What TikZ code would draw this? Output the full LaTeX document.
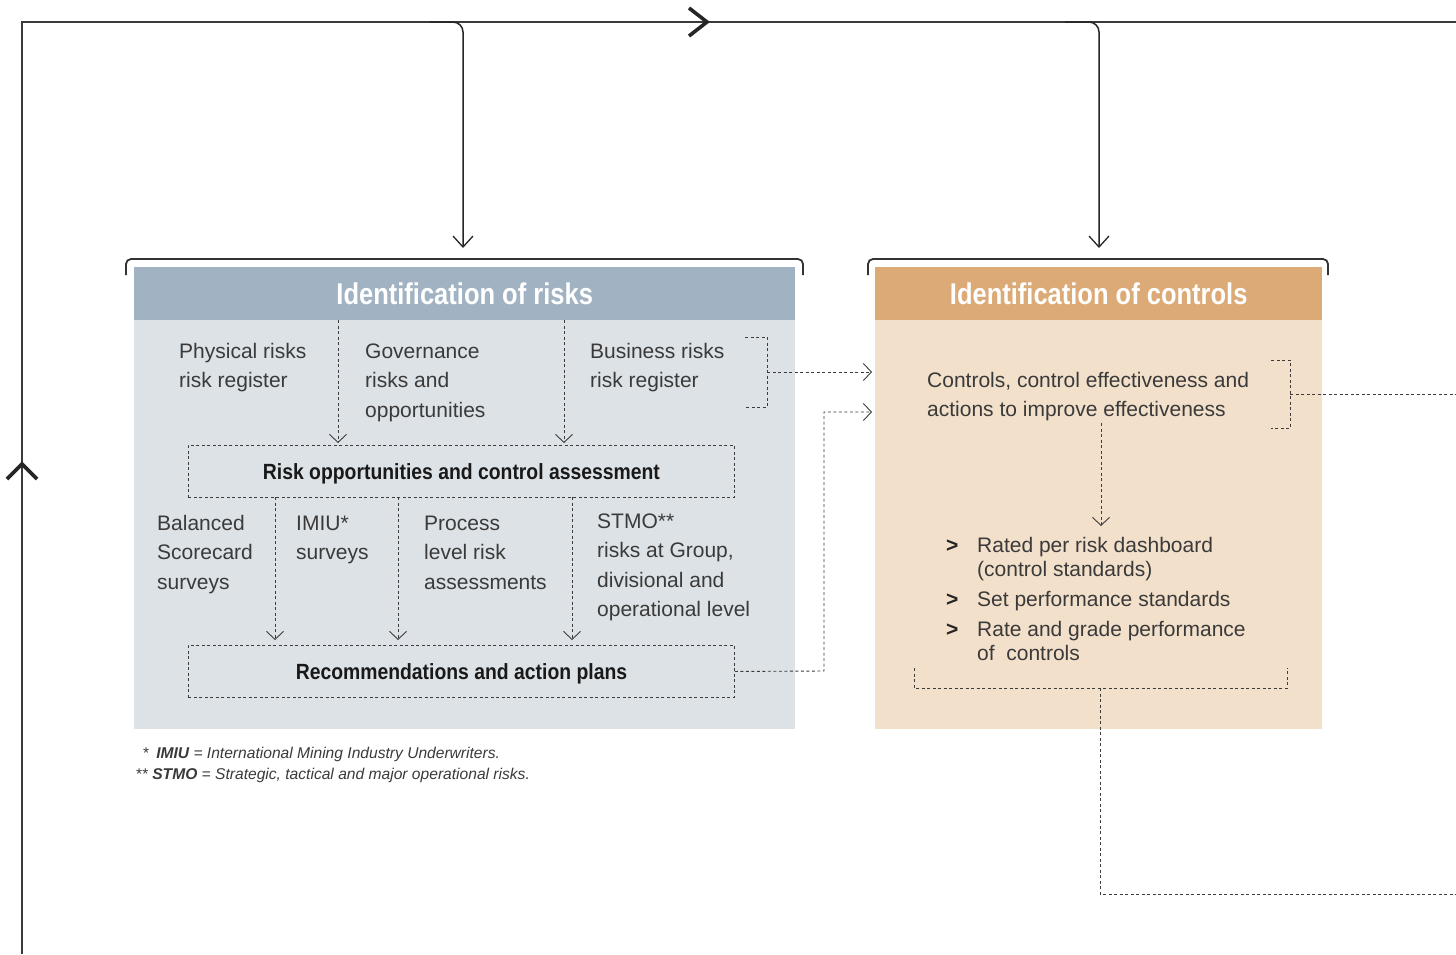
\documentclass[tikz,border=0pt]{standalone}
\usepackage{fontspec}
\setmainfont{Liberation Sans}
\newfontfamily\condfont[FakeStretch=0.85]{Liberation Sans}
\newfontfamily\condfontb[FakeStretch=0.88]{Liberation Sans}
\usetikzlibrary{arrows.meta}
\definecolor{hdblue}{HTML}{A1B3C2}
\definecolor{bdblue}{HTML}{DDE2E6}
\definecolor{hdorange}{HTML}{DCAA77}
\definecolor{bdorange}{HTML}{F2E0CB}
\definecolor{loopgray}{HTML}{3A3A3A}
\definecolor{dashgray}{HTML}{3C3C3C}
\definecolor{textgray}{HTML}{3A3A3A}
\newcommand\ml[1]{\begin{tabular}[t]{@{}l@{}}#1\end{tabular}}
\begin{document}
\begin{tikzpicture}[x=1pt,y=-1pt,
  loopline/.style={line width=1.8pt, draw=loopgray},
  solidarrow/.style={line width=1.5pt, draw=black!85, rounded corners=10pt,
     -{Straight Barb[length=11pt,width=20pt,line width=1.3pt]}},
  chev/.style={line width=3.6pt, draw=black!85, line cap=butt, line join=miter},
  brack/.style={line width=1.8pt, draw=black!80, rounded corners=5pt},
  dashline/.style={draw=dashgray, line width=0.9pt, dash pattern=on 3pt off 2.5pt},
  darrow/.style={dashline, -{Straight Barb[length=8pt,width=17pt,line width=0.9pt]}},
  panel/.style={anchor=north west, inner sep=0pt, draw=none},
  head/.style={text=white, inner sep=0pt, text height=21pt, text depth=0pt,
     font=\condfont\bfseries\fontsize{30}{32}\selectfont},
  body/.style={inner sep=0pt, anchor=base west, text=textgray, font=\fontsize{21}{29.5}\selectfont},
  bullet/.style={inner sep=0pt, anchor=base west, text=black!85, font=\bfseries\fontsize{21}{24}\selectfont},
  dbox/.style={dashline, anchor=north west, inner sep=0pt, minimum width=546pt, minimum height=52pt,
     text height=16pt, text depth=0pt,
     text=black!90, font=\condfontb\bfseries\fontsize{22}{24}\selectfont},
  foot/.style={inner sep=0pt, anchor=base west, text=textgray, font=\itshape\fontsize{15.6}{18}\selectfont}
]
\useasboundingbox (0,0) rectangle (1456,954);

% ---------- panels ----------
\node[panel, fill=bdblue, minimum width=661pt, minimum height=409pt] (rbody) at (134,320) {};
\node[panel, fill=hdblue, minimum width=661pt, minimum height=53pt] (rhead) at (134,267) {};
\node[head] (rheadtxt) at (rhead.center) {Identification of risks};
\node[panel, fill=bdorange, minimum width=447pt, minimum height=409pt] (cbody) at (875,320) {};
\node[panel, fill=hdorange, minimum width=447pt, minimum height=53pt] (chead) at (875,267) {};
\node[head] (cheadtxt) at (chead.center) {Identification of controls};

% ---------- brackets above panels ----------
\draw[brack] (126,275) -- (126,259) -- (803,259) -- (803,275);
\draw[brack] (868,275) -- (868,259) -- (1328,259) -- (1328,275);

% ---------- outer loop ----------
\coordinate (lbot) at (22,954);
\coordinate (ltop) at (22,22);
\coordinate (rtop) at (1456,22);
\draw[loopline] (lbot) -- (ltop) -- (rtop);
\draw[chev] (689,8) -- (707,22) -- (689,36);
\draw[chev] (7,479) -- (22,464) -- (37,479);
\coordinate (b1) at (430,22);
\coordinate (b1c) at (463,22);
\coordinate (b1t) at (463,248);
\draw[solidarrow] (b1) -- (b1c) -- (b1t);
\coordinate (b2) at (1065,22);
\coordinate (b2c) at (1099,22);
\coordinate (b2t) at (1099,248);
\draw[solidarrow] (b2) -- (b2c) -- (b2t);

% ---------- risks panel texts ----------
\node[body] (phys) at (179,358) {\ml{Physical risks\\risk register}};
\node[body] (gov) at (365,358) {\ml{Governance\\risks and\\opportunities}};
\node[body] (bus) at (590,358) {\ml{Business risks\\risk register}};

\node[dbox] (roca) at (188,445) {Risk opportunities and control assessment};

\coordinate (d1) at (338,320);
\coordinate (d1t) at (338,443);
\coordinate (d2) at (564,320);
\coordinate (d2t) at (564,443);
\draw[darrow] (d1) -- (d1t);
\draw[darrow] (d2) -- (d2t);

\node[body] (bal) at (157,530) {\ml{Balanced\\Scorecard\\surveys}};
\node[body] (imiu) at (296,530) {\ml{IMIU*\\surveys}};
\node[body] (proc) at (424,530) {\ml{Process\\level risk\\assessments}};
\node[body] (stmo) at (597,528) {\ml{STMO**\\risks at Group,\\divisional and\\operational level}};

\node[dbox] (rap) at (188,645) {Recommendations and action plans};

\coordinate (e1) at (275,497);
\coordinate (e1t) at (275,640);
\coordinate (e2) at (398,497);
\coordinate (e2t) at (398,640);
\coordinate (e3) at (572,497);
\coordinate (e3t) at (572,640);
\draw[darrow] (e1) -- (e1t);
\draw[darrow] (e2) -- (e2t);
\draw[darrow] (e3) -- (e3t);

% business bracket -> controls
\coordinate (bb1) at (745,337);
\coordinate (bb2) at (767,337);
\coordinate (bb3) at (767,407);
\coordinate (bb4) at (745,407);
\draw[dashline] (bb1) -- (bb2) -- (bb3) -- (bb4);
\coordinate (bbm) at (767,372);
\coordinate (bbt) at (872,372);
\draw[darrow] (bbm) -- (bbt);

% recommendations -> controls
\coordinate (rc1) at (824,671);
\coordinate (rc2) at (824,412);
\coordinate (rct) at (872,412);
\draw[darrow] (rap.east) -- (rc1) -- (rc2) -- (rct);

% ---------- controls panel texts ----------
\node[body] (ctl) at (927,387) {\ml{Controls, control effectiveness and\\actions to improve effectiveness}};
\coordinate (cb1) at (1271,360);
\coordinate (cb2) at (1290,360);
\coordinate (cb3) at (1290,428);
\coordinate (cb4) at (1271,428);
\draw[dashline] (cb1) -- (cb2) -- (cb3) -- (cb4);
\coordinate (cbm) at (1290,394);
\coordinate (cbr) at (1456,394);
\draw[dashline] (cbm) -- (cbr);

\coordinate (cv1) at (1101,423);
\coordinate (cv1t) at (1101,526);
\draw[darrow] (cv1) -- (cv1t);

\node[bullet] (bu1) at (946,552) {>};
\node[body] (it1) at (977,552) {Rated per risk dashboard};
\node[body] (it1b) at (977,576) {(control standards)};
\node[bullet] (bu2) at (946,606) {>};
\node[body] (it2) at (977,606) {Set performance standards};
\node[bullet] (bu3) at (946,636) {>};
\node[body] (it3) at (977,636) {Rate and grade performance};
\node[body] (it3b) at (977,660) {of\ \ controls};

\coordinate (bt1) at (914,668);
\coordinate (bt2) at (914,688);
\coordinate (bt3) at (1287,688);
\coordinate (bt4) at (1287,668);
\draw[dashline] (bt1) -- (bt2) -- (bt3) -- (bt4);
\coordinate (bv1) at (1100,688);
\coordinate (bv2) at (1100,894);
\coordinate (bv3) at (1456,894);
\draw[dashline] (bv1) -- (bv2) -- (bv3);

% ---------- footnotes ----------
\node[foot] (fn1) at (143,758) {{\upshape *}\hspace{7pt}\textbf{IMIU} = International Mining Industry Underwriters.};
\node[foot] (fn2) at (136,779) {{\upshape **}\hspace{4pt}\textbf{STMO} = Strategic, tactical and major operational risks.};
\end{tikzpicture}
\end{document}
